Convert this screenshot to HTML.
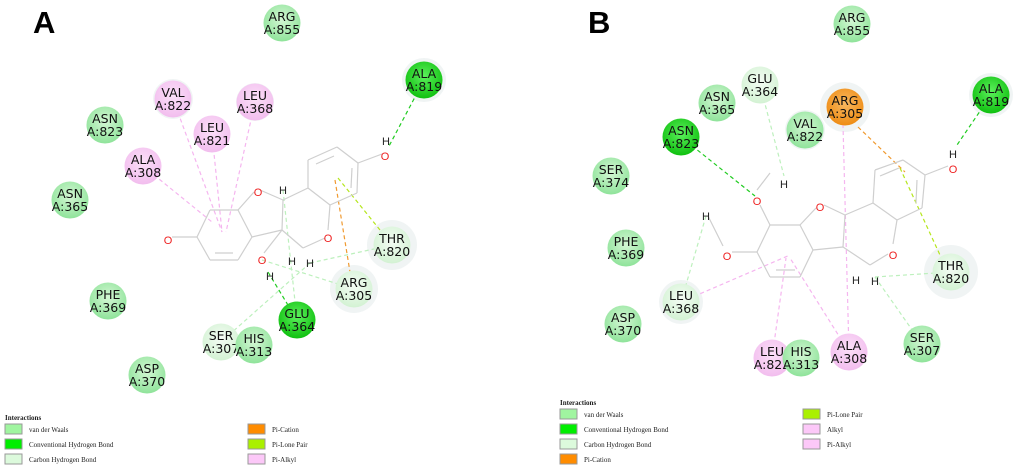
<!DOCTYPE html>
<html><head><meta charset="utf-8"><style>
body{margin:0;background:#fff;width:1020px;height:475px;overflow:hidden}
svg{display:block}
.res{font-family:"DejaVu Sans","Liberation Sans",sans-serif;font-size:12.5px;fill:#111;text-anchor:middle}
.at{font-family:"Liberation Sans",sans-serif;font-size:11px;text-anchor:middle}
.lg{font-family:"Liberation Serif",serif;font-size:7px;fill:#222}
</style></head><body>
<svg id="s" width="1020" height="475" viewBox="0 0 1020 475">
<defs>
<radialGradient id="gv" cx="50%" cy="40%" r="60%"><stop offset="0" stop-color="#d4f7d4"/><stop offset="1" stop-color="#8fe39a"/></radialGradient>
<radialGradient id="gc" cx="50%" cy="40%" r="60%"><stop offset="0" stop-color="#f4fcf4"/><stop offset="1" stop-color="#d3f2d3"/></radialGradient>
<radialGradient id="gh" cx="50%" cy="40%" r="60%"><stop offset="0" stop-color="#5cf05c"/><stop offset="1" stop-color="#10c010"/></radialGradient>
<radialGradient id="gp" cx="50%" cy="40%" r="60%"><stop offset="0" stop-color="#fbe0f8"/><stop offset="1" stop-color="#f2bdee"/></radialGradient>
<radialGradient id="go" cx="50%" cy="40%" r="60%"><stop offset="0" stop-color="#f9b860"/><stop offset="1" stop-color="#ee8c14"/></radialGradient>
</defs>
<text x="33" y="33" font-family="Liberation Sans,sans-serif" font-weight="bold" font-size="31">A</text>
<text x="588" y="33" font-family="Liberation Sans,sans-serif" font-weight="bold" font-size="31">B</text>
</svg>
<script>
const NS='http://www.w3.org/2000/svg';
const svg=document.getElementById('s');
function mk(t,a,p){const e=document.createElementNS(NS,t);for(const k in a)e.setAttribute(k,a[k]);(p||svg).appendChild(e);return e;}
const fills={v:'url(#gv)',c:'url(#gc)',h:'url(#gh)',p:'url(#gp)',o:'url(#go)'};
const lcol={h:'#22cc22',c:'#bdf0bd',p:'#f5b5ef',o:'#f09a30',l:'#b5e61d'};

// Panel A data
const resA=[['ARG','855',282,23,'v'],['ALA','819',424,80,'h'],['VAL','822',173,99,'p'],['LEU','368',255,102,'p'],['LEU','821',212,134,'p'],['ASN','823',105,125,'v'],['ALA','308',143,166,'p'],['ASN','365',70,200,'v'],['THR','820',392,245,'c'],['ARG','305',354,289,'c'],['PHE','369',108,301,'v'],['GLU','364',297,320,'h'],['SER','307',221,342,'c'],['HIS','313',254,345,'v'],['ASP','370',147,375,'v']];
const haloA=[[424,80,22],[392,245,25],[354,289,24],[173,99,20],[255,102,19]];
const bondsA=[[210,210,238,210],[238,210,252,237],[252,237,238,260],[238,260,210,260],[210,260,197,237],[197,237,210,210],[197,237,172,237],[238,210,254,192],[260,190,283,200],[283,200,282,230],[282,230,252,237],[282,230,264,253],[283,200,308,188],[308,188,308,160],[308,160,337,147],[337,147,358,163],[358,163,357,193],[357,193,330,205],[330,205,308,188],[358,163,382,154],[330,205,328,230],[325,238,303,248],[303,248,282,230],[215,253,233,253],[316,164,334,156],[352,168,351,188]];
const atomsA=[['O',168,240,'r'],['O',258,192,'r'],['O',262,260,'r'],['H',270,276,'k'],['O',385,156,'r'],['H',386,141,'k'],['O',328,238,'r'],['H',283,190,'k'],['H',292,261,'k'],['H',310,263,'k']];
const intA=[[424,80,388,148,'h'],[268,272,297,320,'h'],[173,99,222,232,'p'],[212,134,222,232,'p'],[255,102,226,232,'p'],[143,166,212,222,'p'],[335,180,350,272,'o'],[338,178,380,230,'l'],[262,260,354,289,'c'],[310,263,392,245,'c'],[310,263,221,342,'c'],[283,190,297,320,'c']];

// Panel B data
const resB=[['ARG','855',852,24,'v'],['ALA','819',991,95,'h'],['GLU','364',760,85,'c'],['ASN','365',717,103,'v'],['ARG','305',845,107,'o'],['ASN','823',681,137,'h'],['VAL','822',805,130,'v'],['SER','374',611,176,'v'],['PHE','369',626,248,'v'],['THR','820',951,272,'c'],['LEU','368',681,302,'c'],['ASP','370',623,324,'v'],['LEU','821',772,358,'p'],['HIS','313',801,358,'v'],['ALA','308',849,352,'p'],['SER','307',922,344,'v']];
const haloB=[[845,107,25],[991,95,22],[951,272,27],[681,302,22],[805,130,20]];
const bondsB=[[770,225,800,225],[800,225,813,250],[813,250,800,277],[800,277,770,277],[770,277,757,252],[757,252,770,225],[770,225,760,205],[757,190,770,173],[757,252,732,252],[723,246,708,216],[800,225,816,208],[824,205,845,215],[845,215,843,247],[843,247,813,250],[845,215,873,203],[873,203,875,170],[875,170,903,160],[903,160,925,175],[925,175,922,208],[922,208,897,220],[897,220,873,203],[925,175,948,166],[897,220,893,244],[888,254,870,265],[870,265,843,247],[776,270,795,270],[880,176,899,168],[917,180,916,203]];
const atomsB=[['O',757,201,'r'],['H',784,184,'k'],['O',727,256,'r'],['H',706,216,'k'],['O',820,207,'r'],['O',953,169,'r'],['H',953,154,'k'],['O',893,255,'r'],['H',856,280,'k'],['H',875,281,'k']];
const intB=[[991,95,957,145,'h'],[681,137,755,196,'h'],[760,85,784,176,'c'],[706,216,681,302,'c'],[875,277,951,272,'c'],[875,277,922,344,'c'],[681,302,790,255,'p'],[772,358,786,258,'p'],[849,352,790,258,'p'],[849,352,843,125,'p'],[858,127,905,172,'o'],[900,168,940,255,'l']];

function draw(res,halo,bonds,atoms,ints,p){
  halo.forEach(h=>{const c=mk('circle',{cx:h[0],cy:h[1],r:h[2],fill:'#eef3f3',opacity:'0.9'});

});
  ints.forEach(l=>{const e=mk('line',{x1:l[0],y1:l[1],x2:l[2],y2:l[3],stroke:lcol[l[4]],'stroke-width':1.2,'stroke-dasharray':'4,3'});

});
  bonds.forEach(b=>{const e=mk('line',{x1:b[0],y1:b[1],x2:b[2],y2:b[3],stroke:'#cfcfcf','stroke-width':1.2});

});
  atoms.forEach(a=>{const t=mk('text',{x:a[1],y:a[2]+4,class:'at',fill:a[3]=='r'?'#ee2222':'#222'});t.textContent=a[0];

});
  res.forEach(r=>{const g=mk('g',{});


    mk('circle',{cx:r[2],cy:r[3],r:18.5,fill:fills[r[4]]},g);
    const t1=mk('text',{x:r[2],y:r[3]-2,class:'res'},g);t1.textContent=r[0];
    const t2=mk('text',{x:r[2],y:r[3]+11,class:'res'},g);t2.textContent='A:'+r[1];});
}
draw(resA,haloA,bondsA,atomsA,intA);
draw(resB,haloB,bondsB,atomsB,intB);

const legA=[['Interactions',5,420,null],['van der Waals',5,433,'#a0f5a0'],['Conventional Hydrogen Bond',5,448,'#00ee00'],['Carbon Hydrogen Bond',5,463,'#dcfadc'],['Pi-Cation',248,433,'#ff8c00'],['Pi-Lone Pair',248,448,'#aaf000'],['Pi-Alkyl',248,463,'#fcc8f8']];
const legB=[['Interactions',560,405,null],['van der Waals',560,418,'#a0f5a0'],['Conventional Hydrogen Bond',560,433,'#00ee00'],['Carbon Hydrogen Bond',560,448,'#dcfadc'],['Pi-Cation',560,463,'#ff8c00'],['Pi-Lone Pair',803,418,'#aaf000'],['Alkyl',803,433,'#fcc8f8'],['Pi-Alkyl',803,448,'#fcc8f8']];
[legA,legB].forEach(L=>L.forEach(l=>{
  if(!l[3]){const t=mk('text',{x:l[1],y:l[2],class:'lg','font-weight':'bold'});t.textContent=l[0];

return;}
  const g=mk('g',{});


  mk('rect',{x:l[1],y:l[2]-9,width:17,height:10,fill:l[3],stroke:'#999','stroke-width':1},g);
  const t=mk('text',{x:l[1]+24,y:l[2]-1,class:'lg'},g);t.textContent=l[0];
}));
</script>
</body></html>
